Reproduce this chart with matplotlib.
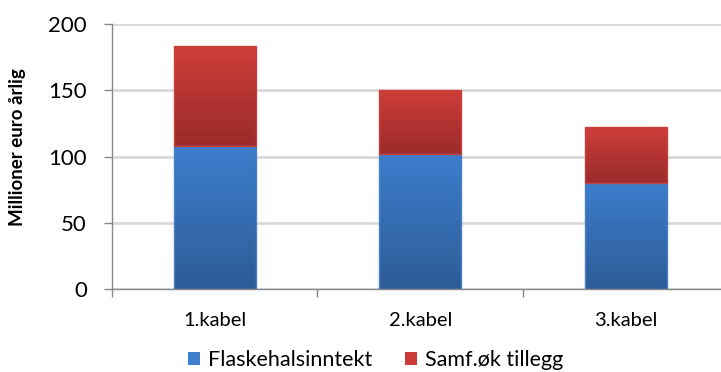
import numpy as np
import matplotlib.pyplot as plt
from matplotlib.colors import LinearSegmentedColormap
from matplotlib.patches import Patch

# data
categories = ['1.kabel', '2.kabel', '3.kabel']
flaskehals = [108, 102, 80]
samf_tillegg = [75, 48, 42]
series_names = ['Flaskehalsinntekt', 'Samf.øk tillegg']

plt.rcParams['font.family'] = ['Lato', 'DejaVu Sans']

fig = plt.figure(figsize=(7.21, 3.72), dpi=100)
ax = fig.add_axes([0.1553, 0.2218, 0.855, 0.7145])

x = np.arange(len(categories))
width = 0.4

blue_cmap = LinearSegmentedColormap.from_list('b', ['#2d5c97', '#3d7ecd'])
red_cmap = LinearSegmentedColormap.from_list('r', ['#9a2b29', '#cf3e3b'])
grad = np.linspace(0, 1, 256).reshape(-1, 1)


def gradient_bars(bars, cmap, edge):
    for b in bars:
        b.set_facecolor('none')
        b.set_edgecolor(edge)
        b.set_linewidth(1.0)
        x0, y0 = b.get_x(), b.get_y()
        w, h = b.get_width(), b.get_height()
        im = ax.imshow(grad, cmap=cmap, origin='lower', aspect='auto',
                       extent=[x0, x0 + w, y0, y0 + h], zorder=2,
                       interpolation='bilinear')
        im.set_clip_path(b)


b1 = ax.bar(x, flaskehals, width, zorder=3)
b2 = ax.bar(x, samf_tillegg, width, bottom=flaskehals, zorder=3)
gradient_bars(b1, blue_cmap, '#4a80c4')
gradient_bars(b2, red_cmap, '#c9403d')

ax.set_xlim(-0.5, 2.5)
ax.set_ylim(0, 200)
ax.set_yticks([0, 50, 100, 150, 200])
ax.grid(axis='y', color='#d9d9d9', linewidth=2)
ax.set_axisbelow(True)

ax.set_xticks(x)
ax.set_xticklabels(categories, fontsize=14.5)
ax.set_xticks([-0.5, 0.5, 1.5, 2.5], minor=True)
ax.tick_params(axis='x', which='major', length=0, pad=16)
ax.tick_params(axis='x', which='minor', length=6, color='#888888', width=1)
ax.tick_params(axis='y', labelsize=16, length=6, color='#888888', width=1, pad=12)

for s in ['top', 'right']:
    ax.spines[s].set_visible(False)
for s in ['left', 'bottom']:
    ax.spines[s].set_color('#888888')
    ax.spines[s].set_linewidth(1)

ax.set_ylabel('Millioner euro årlig', fontsize=13.5, fontweight='bold')
ax.yaxis.set_label_coords(-0.14, 0.536)

handles = [Patch(facecolor='#3d7ecd', edgecolor='none'),
           Patch(facecolor='#cc3b38', edgecolor='none')]
fig.legend(handles, series_names, loc='lower center', ncol=2, frameon=False,
           bbox_to_anchor=(0.521, -0.048), fontsize=15.5, handlelength=0.55,
           handleheight=0.55, handletextpad=0.35, columnspacing=1.56)

fig.savefig('out.png', dpi=100)
